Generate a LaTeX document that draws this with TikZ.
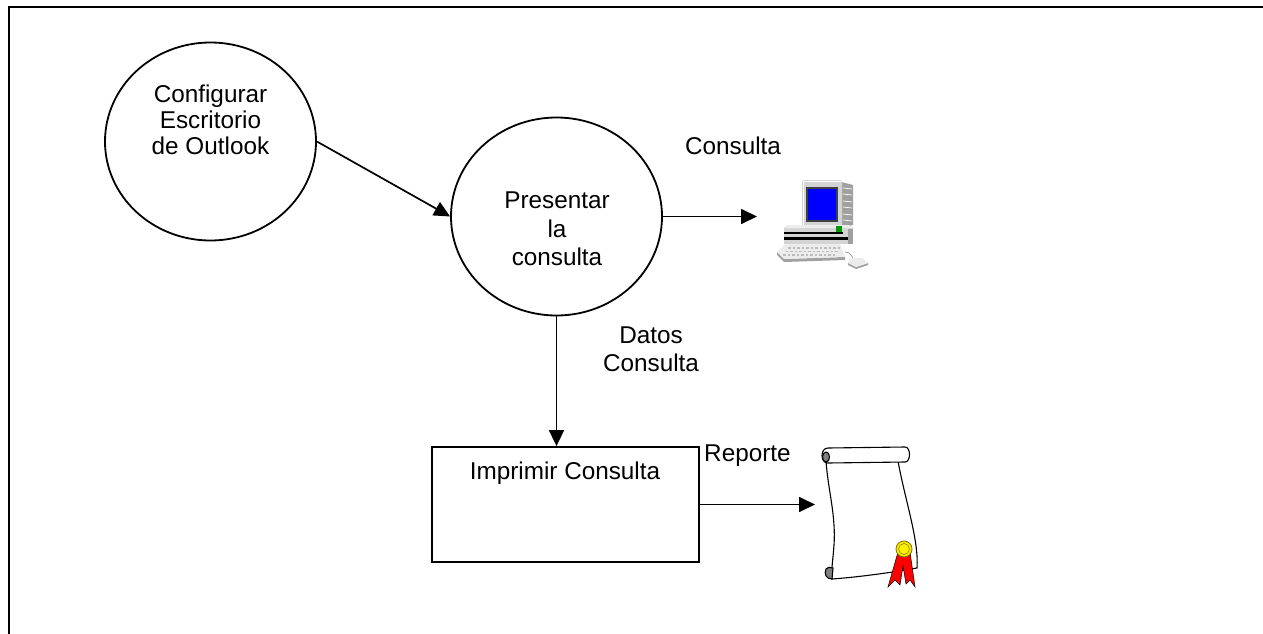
\documentclass[tikz,border=0pt]{standalone}
\usepackage{fontspec}
\setmainfont{Liberation Sans}
\usetikzlibrary{shapes.geometric,arrows.meta}
\definecolor{pcgray}{RGB}{212,212,212}
\definecolor{pclight}{RGB}{236,236,236}
\definecolor{pcdark}{RGB}{160,160,160}
\definecolor{pcblue}{RGB}{0,0,255}
\definecolor{pcgreen}{RGB}{0,150,0}
\definecolor{sealgold}{RGB}{255,240,0}
\definecolor{sealrim}{RGB}{120,110,0}
\begin{document}
\begin{tikzpicture}[x=1pt,y=-1pt,
  txt/.style={font=\fontsize{24.3}{27}\selectfont, inner sep=0pt, align=center},
  proc/.style={ellipse, draw, line width=1.8pt, minimum width=211pt, minimum height=198pt, inner sep=0pt},
  flow/.style={line width=1.7pt, -{Triangle[length=16pt,width=15pt]}},
  stepbox/.style={draw, line width=1.8pt, minimum width=267pt, minimum height=115pt, inner sep=0pt}]
\useasboundingbox (0,0) rectangle (1263,634);
\fill[white] (0,0) rectangle (1263,634);
% page frame (top and left sides)
\draw[line width=2.8pt] (9,634) -- (9,7) -- (1263,7);

% processes
\node[proc] (c1) at (210.5,141.5) {};
\node[txt, anchor=north, font=\fontsize{24.3}{26}\selectfont] (c1t) at (210.5,85) {Configurar\\Escritorio\\de Outlook};
\node[proc] (c2) at (556.5,216.5) {};
\node[txt, anchor=north, font=\fontsize{24.3}{28.5}\selectfont] (c2t) at (557,192) {Presentar\\la\\consulta};
\node[stepbox] (pr) at (565.5,504.5) {};
\node[txt, anchor=base] (prt) at (565,479) {Imprimir Consulta};

% flow labels
\node[txt, anchor=base] (lq) at (733,154) {Consulta};
\node[txt, anchor=north, font=\fontsize{24.3}{28}\selectfont] (ld) at (651,327) {Datos\\Consulta};
\node[txt, anchor=base west] (lr) at (704,461) {Reporte};

% arrow ends at the pictures
\coordinate (pcin) at (757,216.5);
\coordinate (rpin) at (815,504.5);

% flows
\draw[flow] (c1.east) -- (c2.west);
\draw[flow] (c2.east) -- (pcin);
\draw[flow] (c2.south) -- (c2.south |- pr.north);
\draw[flow] (pr.east) -- (rpin);

% desktop computer
\begin{scope}
  % monitor side
  \fill[pcdark] (841,182) -- (853,185) -- (853,225) -- (841,228) -- cycle;
  \foreach \yy in {188,194,201,207,214,220}
    \draw[white, line width=0.7pt] (843,\yy) -- (852,\yy+1);
  % monitor front
  \fill[pcgray, rounded corners=2pt] (802,180) rectangle (842,229);
  \draw[white, line width=1pt] (803,227) -- (803,181) -- (841,181);
  \fill[black!75] (806,187) rectangle (838,222);
  \fill[pcblue] (808,189) rectangle (836,220);
  % base unit
  \fill[pcgray] (784,227) rectangle (853,244);
  \fill[pclight] (786,225) -- (849,225) -- (853,228) -- (784,228) -- cycle;
  \fill[black] (784,231.5) rectangle (843,234);
  \fill[black] (784,236.5) rectangle (848,239.5);
  \fill[pcdark] (848,229) rectangle (853,244);
  \fill[pcgreen] (836,226) rectangle (842,232);
  % keyboard
  \fill[pcdark] (777,252) -- (784,259) -- (845,257) -- (845,260) -- (784,262) -- (777,255) -- cycle;
  \fill[pclight] (785,244) -- (840,244) -- (845,257) -- (784,259) -- (777,252) -- cycle;
  \foreach \i in {0,...,11}
    \foreach \j in {0,1,2}
      \fill[pcdark!70] (788+4.5*\i-2.5*\j,247+3.5*\j) rectangle ++(2.5,1.6);
  % mouse
  \draw[pcdark, line width=0.8pt] (845,252) .. controls (850,252) and (852,256) .. (853,259);
  \fill[pcdark] (848,263) -- (856,267) -- (868,263) -- (868,265) -- (856,269) -- (848,265) -- cycle;
  \fill[pclight] (850,258) -- (862,258) -- (868,263) -- (856,267) -- (848,263) -- cycle;
\end{scope}

% report scroll
\begin{scope}[line width=1.1pt]
  \filldraw[fill=white] (826,461) .. controls (828,490) and (836,515) .. (834,545)
    .. controls (833,560) and (831,570) .. (832,579)
    .. controls (860,577) and (895,572) .. (917,568)
    .. controls (919,540) and (905,500) .. (898,461) -- cycle;
  \filldraw[fill=white] (828,448) -- (905,447) .. controls (911,447) and (911,462) .. (905,462)
    -- (828,463) .. controls (820,463) and (820,448) .. (828,448) -- cycle;
  \filldraw[fill=gray] (826,457) ellipse (3.5 and 5);
  \filldraw[fill=gray] (826,569) .. controls (824,574) and (826,579) .. (832,579)
    -- (833,568) .. controls (830,567) and (827,567) .. (826,569) -- cycle;
  % seal with ribbons
  \filldraw[fill=red, line width=0.5pt] (898,552) -- (888,587) -- (895,580) -- (900,585) -- (903,566)
    -- (906,584) -- (910,580) -- (915,587) -- (910,552) -- cycle;
  \filldraw[fill=sealgold, draw=sealrim, line width=0.8pt] (904,549) circle (8);
  \draw[sealrim, line width=0.5pt] (904,549) circle (5.5);
\end{scope}
\end{tikzpicture}
\end{document}
